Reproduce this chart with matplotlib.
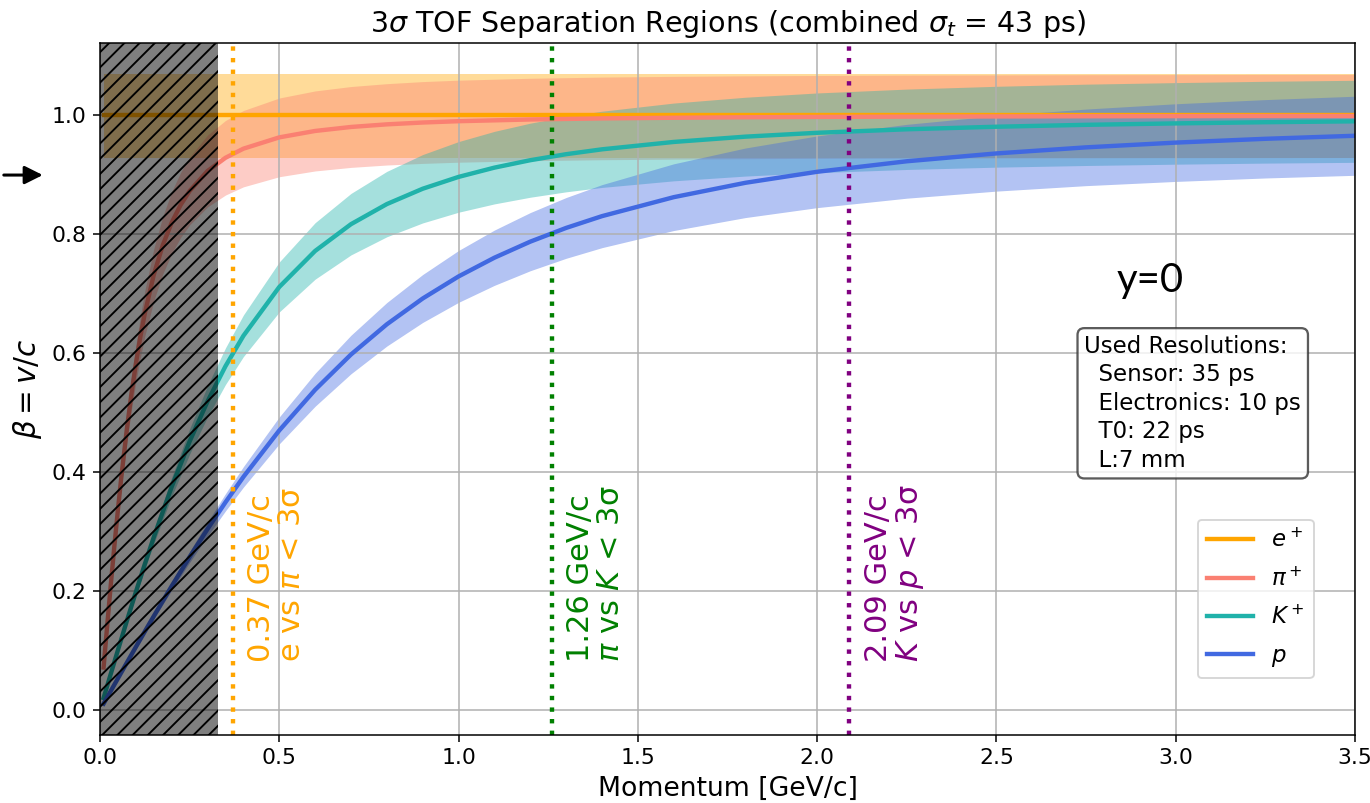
import matplotlib
matplotlib.use("Agg")
import matplotlib.pyplot as plt
from matplotlib.patches import FancyArrowPatch

# momentum grid [GeV/c] for K and p
mom = [0.01, 0.02, 0.03, 0.05, 0.075, 0.1, 0.125, 0.15, 0.2, 0.25, 0.3, 0.35, 0.4, 0.5,
       0.6, 0.7, 0.8, 0.9, 1.0, 1.1, 1.2, 1.3, 1.4, 1.6, 1.8, 2.0, 2.25, 2.5, 2.75, 3.0,
       3.25, 3.5]
# finer grid at low momentum for the pion
pi_mom = [0.01, 0.015, 0.02, 0.03, 0.04, 0.05, 0.06, 0.075, 0.0875, 0.1, 0.1125, 0.125,
          0.15, 0.175, 0.2, 0.225, 0.25, 0.3, 0.35, 0.4, 0.5, 0.6, 0.7, 0.8, 0.9, 1.0,
          1.2, 1.4, 1.6, 1.8, 2.0, 2.25, 2.5, 2.75, 3.0, 3.25, 3.5]

# e+ (flat at beta = 1)
e_mom = [0.01, 3.5]
e_beta = [1.0, 1.0]
e_low = [0.929, 0.929]
e_high = [1.069, 1.069]

# pi+
pi_beta = [0.0715, 0.1069, 0.1418, 0.2101, 0.2755, 0.3372, 0.3949, 0.4733, 0.5312, 0.5824,
           0.6276, 0.6672, 0.7321, 0.7818, 0.8200, 0.8498, 0.8731, 0.9067, 0.9289, 0.9442,
           0.9632, 0.9740, 0.9807, 0.9851, 0.9882, 0.9904, 0.9933, 0.9951, 0.9962, 0.9970,
           0.9976, 0.9981, 0.9984, 0.9987, 0.9989, 0.9991, 0.9992]
pi_low = [0.0702, 0.1045, 0.1381, 0.2034, 0.2654, 0.3235, 0.3775, 0.4505, 0.5041, 0.5513,
          0.5928, 0.6291, 0.6883, 0.7334, 0.7680, 0.7950, 0.8160, 0.8463, 0.8662, 0.8800,
          0.8970, 0.9067, 0.9127, 0.9167, 0.9194, 0.9214, 0.9240, 0.9256, 0.9266, 0.9273,
          0.9279, 0.9283, 0.9286, 0.9288, 0.9290, 0.9292, 0.9293]
pi_high = [0.0728, 0.1093, 0.1455, 0.2168, 0.2856, 0.3509, 0.4123, 0.4961, 0.5583, 0.6135,
           0.6624, 0.7053, 0.7759, 0.8302, 0.8720, 0.9046, 0.9302, 0.9671, 0.9916, 1.0084,
           1.0294, 1.0413, 1.0487, 1.0535, 1.0570, 1.0594, 1.0626, 1.0646, 1.0658, 1.0667,
           1.0673, 1.0679, 1.0682, 1.0686, 1.0688, 1.0690, 1.0691]

# K+
k_beta = [0.0203, 0.0405, 0.0607, 0.1008, 0.1502, 0.1985, 0.2455, 0.2907, 0.3755, 0.4518,
          0.5193, 0.5784, 0.6295, 0.7116, 0.7722, 0.8172, 0.8510, 0.8768, 0.8967, 0.9123,
          0.9248, 0.9349, 0.9431, 0.9555, 0.9644, 0.9709, 0.9768, 0.9811, 0.9843, 0.9867,
          0.9887, 0.9902]
k_low = [0.0201, 0.0399, 0.0597, 0.0986, 0.1461, 0.1923, 0.2370, 0.2797, 0.3594, 0.4305,
         0.4931, 0.5476, 0.5945, 0.6696, 0.7247, 0.7655, 0.7960, 0.8193, 0.8373, 0.8513,
         0.8625, 0.8716, 0.8790, 0.8901, 0.8981, 0.9039, 0.9092, 0.9131, 0.9159, 0.9181,
         0.9199, 0.9212]
k_high = [0.0205, 0.0411, 0.0617, 0.1030, 0.1543, 0.2047, 0.2540, 0.3017, 0.3916, 0.4731,
          0.5455, 0.6092, 0.6645, 0.7536, 0.8197, 0.8689, 0.9060, 0.9343, 0.9561, 0.9733,
          0.9871, 0.9982, 1.0072, 1.0209, 1.0307, 1.0379, 1.0444, 1.0491, 1.0527, 1.0553,
          1.0575, 1.0592]

# p
p_beta = [0.0107, 0.0213, 0.0320, 0.0532, 0.0797, 0.1060, 0.1321, 0.1579, 0.2085, 0.2575,
          0.3045, 0.3495, 0.3922, 0.4703, 0.5387, 0.5980, 0.6488, 0.6922, 0.7293, 0.7608,
          0.7878, 0.8109, 0.8307, 0.8626, 0.8868, 0.9053, 0.9230, 0.9362, 0.9464, 0.9544,
          0.9608, 0.9659]
p_low = [0.0106, 0.0211, 0.0316, 0.0523, 0.0781, 0.1036, 0.1287, 0.1535, 0.2018, 0.2484,
         0.2927, 0.3350, 0.3750, 0.4477, 0.5110, 0.5656, 0.6122, 0.6519, 0.6857, 0.7143,
         0.7389, 0.7598, 0.7777, 0.8065, 0.8283, 0.8450, 0.8609, 0.8728, 0.8820, 0.8891,
         0.8949, 0.8994]
p_high = [0.0108, 0.0215, 0.0324, 0.0541, 0.0813, 0.1084, 0.1355, 0.1623, 0.2152, 0.2666,
          0.3163, 0.3640, 0.4094, 0.4929, 0.5664, 0.6304, 0.6854, 0.7325, 0.7729, 0.8073,
          0.8367, 0.8620, 0.8837, 0.9187, 0.9453, 0.9656, 0.9851, 0.9996, 1.0108, 1.0197,
          1.0267, 1.0324]

# separation thresholds
sep_p = [0.37, 1.26, 2.09]
sep_text = ["0.37 GeV/c\ne vs $\\pi$ < 3σ",
            "1.26 GeV/c\n$\\pi$ vs $K$ < 3σ",
            "2.09 GeV/c\n$K$ vs $p$ < 3σ"]
sep_col = ["orange", "green", "purple"]

cut_p = 0.33  # excluded low momentum region

fig = plt.figure(figsize=(10, 803 / 137), dpi=137)
ax = fig.add_axes([0.073, 0.0847, 0.916, 0.8618])

series = [
    (e_mom, e_beta, e_low, e_high, "orange", "$e^+$"),
    (pi_mom, pi_beta, pi_low, pi_high, "salmon", "$\\pi^+$"),
    (mom, k_beta, k_low, k_high, "lightseagreen", "$K^+$"),
    (mom, p_beta, p_low, p_high, "royalblue", "$p$"),
]
for x, b, lo, hi, c, lab in series:
    ax.fill_between(x, lo, hi, color=c, alpha=0.4, lw=0)
    ax.plot(x, b, color=c, lw=2.3, label=lab)

for xs, t, c in zip(sep_p, sep_text, sep_col):
    ax.axvline(xs, color=c, ls=":", lw=2.3)
    ax.text(xs + 0.04, 0.08, t, rotation=90, color=c, fontsize=16,
            ha="left", va="bottom", linespacing=1.05)

ax.axvspan(0, cut_p, facecolor=(0, 0, 0, 0.5), edgecolor="black",
           hatch="///", lw=0, zorder=3)

ax.set_xlim(0, 3.5)
ax.set_ylim(-0.042, 1.122)
ax.grid(True)
ax.tick_params(labelsize=11.5)
ax.set_xlabel("Momentum [GeV/c]", fontsize=14)
ax.set_ylabel("$\\beta = v/c$", fontsize=15.5)
ax.set_title("3$\\sigma$ TOF Separation Regions (combined $\\sigma_t$ = 43 ps)", fontsize=15)

ax.legend(loc="lower right", bbox_to_anchor=(0.967, 0.082), borderaxespad=0,
          fontsize=12, labelspacing=0.65)

ax.text(0.7844, 0.578,
        "Used Resolutions:\n  Sensor: 35 ps\n  Electronics: 10 ps\n  T0: 22 ps\n  L:7 mm",
        transform=ax.transAxes, fontsize=12, va="top", ha="left", linespacing=1.3,
        bbox=dict(boxstyle="round,pad=0.3", facecolor="white", edgecolor="#333333",
                  alpha=0.8, lw=1.2))

ax.text(2.928, 0.723, "y=0", fontsize=21, family="Lato", ha="center", va="center")

arrow = FancyArrowPatch((0.0, 0.782), (0.034, 0.782), transform=fig.transFigure,
                        arrowstyle="-|>", mutation_scale=20, lw=1.6, color="black")
fig.add_artist(arrow)

fig.savefig("out.png", dpi=137)
